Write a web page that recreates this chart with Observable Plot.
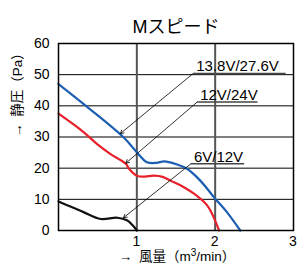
<!DOCTYPE html>
<html><head><meta charset="utf-8">
<script src="https://cdn.jsdelivr.net/npm/d3@7"></script>
<script src="https://cdn.jsdelivr.net/npm/@observablehq/plot@0.6"></script>
<style>body{margin:0;background:#fff}</style>
</head><body><div id="chart"></div>
<script>
const title = "Mスピード";
const xTicks = [1, 2, 3];
const yTicks = [0, 10, 20, 30, 40, 50, 60];
const xLabel = "→\u2002風量（m³/min）";
const yLabel = "→\u2002静圧（Pa）";
const seriesNames = ["13.8V/27.6V", "12V/24V", "6V/12V"];
const seriesColors = ["#1c5fb2", "#e8202a", "#111111"];

const blueX = [0, 0.37, 0.83, 1.0, 1.13, 1.25, 1.35, 1.5, 1.64, 1.81, 2.0, 2.15, 2.32];
const blueY = [47, 39.6, 29.9, 25.1, 21.9, 21.7, 22.2, 21.3, 19.8, 16, 10.2, 5.9, 0];
const redX = [0, 0.30, 0.49, 0.66, 0.86, 0.9, 1.0, 1.1, 1.22, 1.33, 1.43, 1.6, 1.73, 1.9, 1.98, 2.05];
const redY = [37.5, 32, 27.8, 24.6, 21.4, 19.8, 17.6, 17.3, 17.6, 17.2, 16, 13.9, 11.8, 8, 4.3, 0];
const blackX = [0, 0.16, 0.32, 0.54, 0.75, 0.88, 0.95, 1.0];
const blackY = [9.3, 7.6, 5.9, 3.7, 4.1, 3.2, 1.6, 0];

// annotation positions (data units)
const labelStartX = [1.72, 1.77, 1.69];
const labelEndX = [2.9, 2.54, 2.37];
const labelY = [50.4, 41.2, 21.4];
const tipX = [0.79, 0.86, 0.83];
const tipY = [31.1, 21.6, 4.1];

const curves = [
  {x: blueX, y: blueY},
  {x: redX, y: redY},
  {x: blackX, y: blackY}
].map((c, i) => c.x.map((x, j) => ({x, y: c.y[j], s: seriesNames[i]})));

const notes = seriesNames.map((name, i) => ({
  name, x1: labelStartX[i], x2: labelEndX[i], y: labelY[i], tx: tipX[i], ty: tipY[i]
}));

const font = "'Liberation Sans', Arial, 'Noto Sans CJK JP', sans-serif";

const chart = Plot.plot({
  width: 297,
  height: 274,
  marginTop: 43,
  marginBottom: 44,
  marginLeft: 58,
  marginRight: 4,
  style: {fontFamily: font, fontSize: "14px", color: "#000", background: "#fff", overflow: "visible"},
  x: {domain: [0, 3]},
  y: {domain: [0, 60]},
  marks: [
    Plot.ruleY(yTicks.filter(d => d > 0 && d < 60), {stroke: "#000", strokeWidth: 1}),
    Plot.ruleX(xTicks.filter(d => d < 3), {stroke: "#555", strokeWidth: 2}),
    ...curves.map((c, i) => Plot.line(c, {x: "x", y: "y", stroke: seriesColors[i], strokeWidth: 2.2, curve: "catmull-rom"})),
    Plot.link(notes, {x1: "x1", x2: "x2", y1: "y", y2: "y", stroke: "#444", strokeWidth: 1.5}),
    Plot.arrow(notes, {x1: "x1", y1: "y", x2: "tx", y2: "ty", stroke: "#000", strokeWidth: 0.8, headLength: 7, bend: 0}),
    Plot.text(notes, {x: "x1", y: "y", text: "name", textAnchor: "start", lineAnchor: "bottom", dx: 3, dy: -2, fontSize: 15, fill: "#000"}),
    Plot.frame({stroke: "#000", strokeWidth: 1.5}),
    Plot.axisX({ticks: xTicks, tickSize: 0, tickPadding: 6, label: null, fontSize: 14, tickFormat: d => String(d), dx: -0.5}),
    Plot.axisY({ticks: yTicks, tickSize: 0, tickPadding: 9, label: null, fontSize: 14, tickFormat: d => String(d)}),
    Plot.text([title], {frameAnchor: "top", dy: -23, fontSize: 18, fill: "#000"}),
    Plot.text([xLabel], {frameAnchor: "bottom", dy: 30, dx: 1, fontSize: 13.5, fill: "#000"}),
    Plot.text([yLabel], {frameAnchor: "left", dx: -41, rotate: -90, fontSize: 13.5, fill: "#000"})
  ]
});
// render the superscript 3 as a raised digit
chart.querySelectorAll("text").forEach(t => {
  if (t.textContent === xLabel) {
    t.textContent = "";
    const parts = [["→\u2002風量（m", null], ["3", "sup"], ["/min）", "back"]];
    parts.forEach(([s, k]) => {
      const ts = document.createElementNS("http://www.w3.org/2000/svg", "tspan");
      ts.textContent = s;
      if (k === "sup") { ts.setAttribute("dy", "-5"); ts.setAttribute("font-size", "10"); }
      if (k === "back") { ts.setAttribute("dy", "5"); }
      t.appendChild(ts);
    });
  }
});
document.getElementById("chart").append(chart);
</script></body></html>
